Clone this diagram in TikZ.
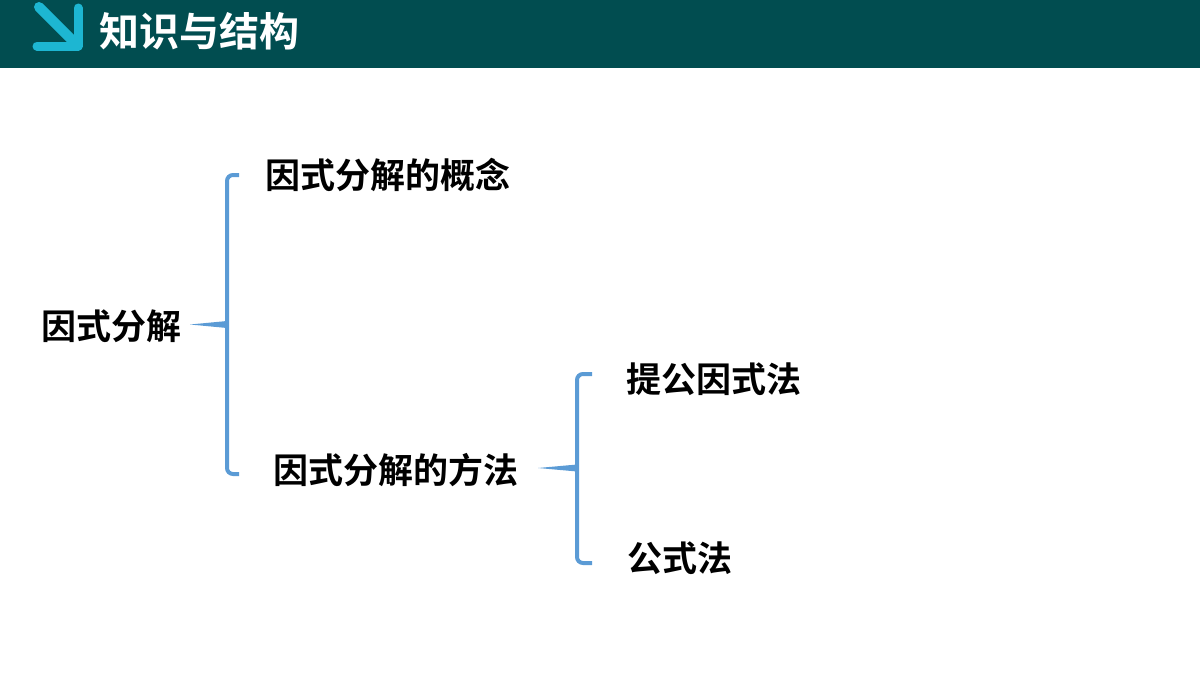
\documentclass[tikz,border=0pt]{standalone}
\usepackage{fontspec}
\newfontfamily\cjk{Noto Sans CJK SC Bold}
\definecolor{band}{HTML}{014D50}
\definecolor{icon}{HTML}{1DB6D2}
\definecolor{brace}{HTML}{5B9BD5}
\begin{document}
\begin{tikzpicture}[x=0.5pt,y=-0.5pt,
  lbl/.style={anchor=west,inner sep=0pt,font=\cjk\fontsize{17.5pt}{17.5pt}\selectfont,text=black},
  br/.style={draw=brace,line width=2pt,rounded corners=3pt},
  tipf/.style={fill=brace}]
\useasboundingbox (0,0) rectangle (1200,675);
\fill[band] (0,0) rectangle (1200,68);
\draw[icon,line width=5pt,line cap=round] (39,7) -- (74,42);
\draw[icon,line width=4.5pt,line cap=round,line join=round] (37,46) -- (78,46) -- (78,8);
\node[anchor=west,inner sep=0pt,text=white,font=\cjk\fontsize{20pt}{20pt}\selectfont] (title) at (99,31) {知识与结构};
% nodes
\node[lbl] (root) at (41,326) {因式分解};
\node[lbl] (c1) at (265,175) {因式分解的概念};
\node[lbl] (c2) at (273,470) {因式分解的方法};
\node[lbl] (m1) at (626,379) {提公因式法};
\node[lbl] (m2) at (627,558) {公式法};
% brace 1
\coordinate (b1t) at (239,175);
\coordinate (b1b) at (239,474);
\coordinate (b1tip) at (190,324.5);
\draw[br] (b1t) -- (227,175) -- (227,474) -- (b1b);
\fill[tipf] (b1tip) -- (227,321) -- (227,328) -- cycle;
% brace 2
\coordinate (b2t) at (592,374);
\coordinate (b2b) at (592,563);
\coordinate (b2tip) at (538,468);
\draw[br] (b2t) -- (577,374) -- (577,563) -- (b2b);
\fill[tipf] (b2tip) -- (577,464.5) -- (577,471.5) -- cycle;
\end{tikzpicture}
\end{document}
